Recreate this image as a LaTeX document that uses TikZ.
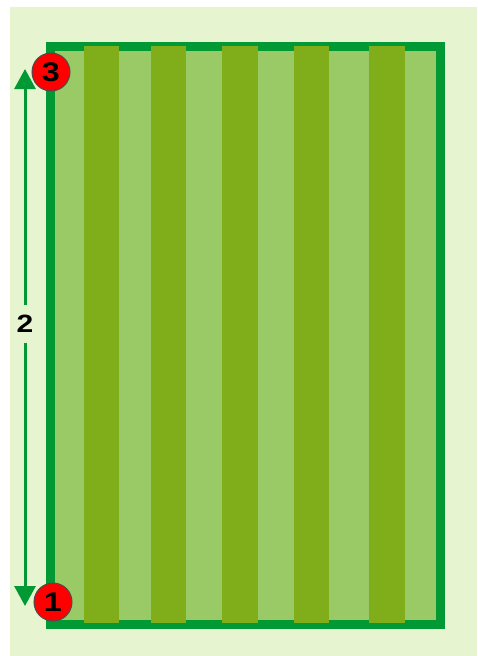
\documentclass[tikz,border=0pt]{standalone}
\usepackage{fontspec}
\setmainfont{Liberation Sans}
\usepackage{tikz}
\usetikzlibrary{arrows.meta}
\definecolor{meadow}{RGB}{230,244,208}
\definecolor{grass}{RGB}{153,202,102}
\definecolor{stripe}{RGB}{128,173,26}
\definecolor{edge}{RGB}{0,153,51}
\newcommand{\widedigit}[2]{\fontsize{#1}{#1}\selectfont\bfseries\scalebox{1.2}[1]{#2}}

\begin{document}
\begin{tikzpicture}[x=1pt,y=-1pt,
  marker/.style={circle,fill=red,draw=black!70,line width=1pt,minimum size=38pt,inner sep=0pt}]
  \useasboundingbox (0,0) rectangle (477,656);
  \fill[meadow] (10,7) rectangle (477,656);
  \coordinate (f0) at (50.5,46.5);
  \coordinate (f1) at (440.5,624.5);
  \fill[grass] (f0) rectangle (f1);
  \draw[edge,line width=9pt] (f0) rectangle (f1);
  \foreach \a/\b in {84/119,151/186,222/258,294/329,369/405}{\fill[stripe] (\a,46) rectangle (\b,623);}
  \coordinate (top) at (25,69);
  \coordinate (bot) at (25,606);
  \draw[edge,line width=3pt,{Triangle[length=20pt,width=21pt]}-{Triangle[length=20pt,width=21pt]}] (top) -- (bot);
  \node[fill=meadow,inner xsep=2pt,inner ysep=10pt] (len) at (25,324) {\widedigit{25}{2}};
  \node[marker] (m3) at (51,72) {\widedigit{27}{3}};
  \node[marker] (m1) at (53,602) {\widedigit{27}{1}};
\end{tikzpicture}
\end{document}
